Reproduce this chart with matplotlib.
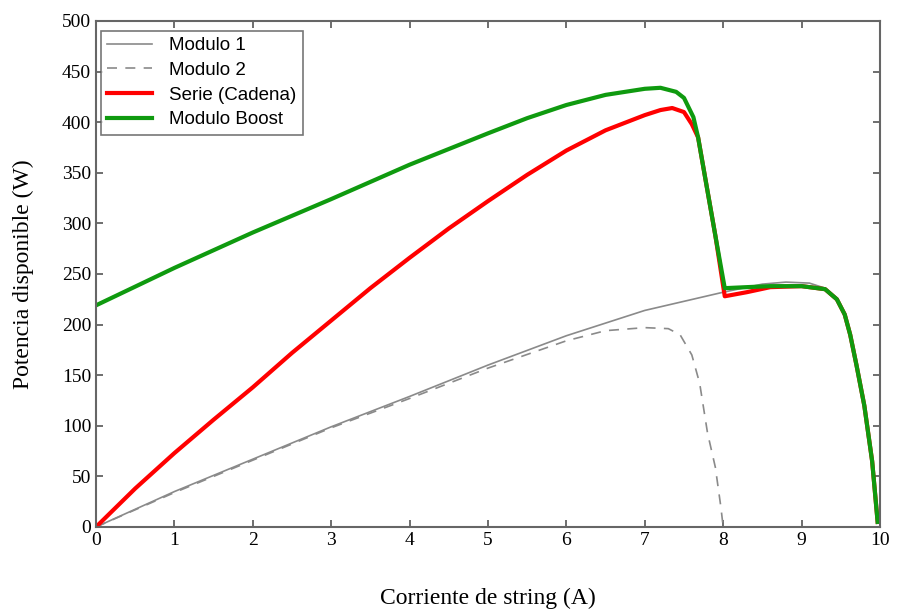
import matplotlib
matplotlib.use("Agg")
import matplotlib.pyplot as plt

# Modulo 1 (solid grey)
mod1_x = [0, 1, 2, 3, 4, 5, 6, 7, 8, 8.5, 8.8, 9.1, 9.3, 9.45, 9.55, 9.62, 9.7, 9.8, 9.9, 9.97]
mod1_y = [0, 35, 67, 99, 129, 160, 189, 214, 232, 240, 242, 241, 236, 226, 211, 191, 161, 121, 66, 5]

# Modulo 2 (dashed grey)
mod2_x = [0, 1, 2, 3, 4, 5, 6, 6.5, 7, 7.3, 7.45, 7.6, 7.7, 7.8, 7.9, 7.97, 8.0]
mod2_y = [0, 34, 66, 98, 127, 157, 184, 194, 197, 196, 190, 170, 142, 93, 59, 20, 0]

# Serie (Cadena)
serie_x = [0, 0.5, 1, 1.5, 2, 2.5, 3, 3.5, 4, 4.5, 5, 5.5, 6, 6.5, 7, 7.2, 7.35, 7.5, 7.6,
           7.68, 7.8, 7.9, 8.02, 8.3, 8.6, 9.0, 9.3, 9.45, 9.55, 9.62, 9.7, 9.8, 9.9, 9.97]
serie_y = [0, 38, 73, 106, 138, 172, 204, 236, 266, 295, 322, 348, 372, 392, 407, 412, 414, 410, 398,
           385, 332, 288, 228, 232, 237, 238, 235, 225, 210, 190, 160, 120, 65, 5]

# Modulo Boost
boost_x = [0, 1, 2, 3, 4, 5, 5.5, 6, 6.5, 7, 7.2, 7.4, 7.5, 7.62, 7.68, 7.8, 7.9, 8.02,
           8.3, 8.6, 9.0, 9.3, 9.45, 9.55, 9.62, 9.7, 9.8, 9.9, 9.97]
boost_y = [219, 256, 291, 324, 358, 389, 404, 417, 427, 433, 434, 430, 424, 405, 385, 332, 288, 236,
           237, 238, 238, 235, 225, 210, 190, 160, 120, 65, 5]

x_ticks = list(range(0, 11))
y_ticks = list(range(0, 501, 50))

fig = plt.figure(figsize=(9.02, 6.14), dpi=100)
ax = fig.add_axes([0.1064, 0.1417, 0.8692, 0.8241])

ax.plot(mod1_x, mod1_y, color="#8a8a8a", lw=1.2, label="Modulo 1")
ax.plot(mod2_x, mod2_y, color="#8a8a8a", lw=1.2, ls=(0, (6, 5)), label="Modulo 2")
ax.plot(serie_x, serie_y, color="#ff0000", lw=3, label="Serie (Cadena)")
ax.plot(boost_x, boost_y, color="#0f9a0f", lw=3, label="Modulo Boost")

ax.set_xlim(0, 10)
ax.set_ylim(0, 500)
ax.set_xticks(x_ticks)
ax.set_yticks(y_ticks)

serif = ["Liberation Serif", "DejaVu Serif"]
for lbl in ax.get_xticklabels() + ax.get_yticklabels():
    lbl.set_fontfamily(serif)
    lbl.set_fontsize(14)
ax.tick_params(direction="in", top=True, right=True, length=5, color="#555555", width=1.2)
for s in ax.spines.values():
    s.set_color("#666666")
    s.set_linewidth(1.5)

ax.set_xlabel("Corriente de string (A)", fontfamily=serif, fontsize=17, labelpad=28)
ax.set_ylabel("Potencia disponible (W)", fontfamily=serif, fontsize=17, labelpad=20)

leg = ax.legend(loc="upper left", bbox_to_anchor=(0.0, 0.99), prop={"family": "Liberation Sans", "size": 13.5},
                frameon=True, fancybox=False, edgecolor="#555555", handlelength=2.4,
                labelspacing=0.4, borderpad=0.35, handletextpad=0.9, borderaxespad=0.25)
leg.get_frame().set_linewidth(1.2)

fig.savefig("out.png", dpi=100)
